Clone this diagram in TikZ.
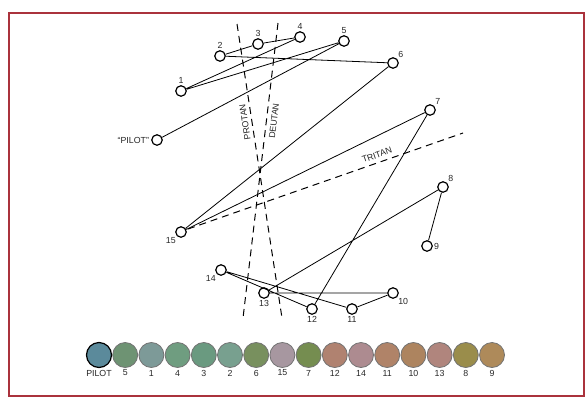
\documentclass[tikz,border=0pt]{standalone}
\usepackage{fontspec}
\setmainfont{Liberation Sans}
\begin{document}
\begin{tikzpicture}[x=1pt,y=-1pt,
  capdot/.style={circle,draw,fill=white,line width=1.2pt,minimum size=10.5pt,inner sep=0pt},
  lbl/.style={font=\fontsize{8.8}{10}\selectfont,text=black!85,inner sep=1pt},
  conn/.style={line width=0.8pt},
  axisline/.style={line width=1pt,dash pattern=on 7pt off 5pt},
  swatch/.style={circle,draw=black!55,line width=0.8pt,minimum size=25pt,inner sep=0pt},
  framebox/.style={draw={rgb,255:red,170;green,50;blue,60},line width=1.5pt}]
\useasboundingbox (0,0) rectangle (588,402);
\draw[framebox] (9,13) rectangle (584,396);
% dashed confusion axes
\coordinate (pt) at (237,24); \coordinate (pb) at (282,318);
\coordinate (dt) at (278,23); \coordinate (db) at (243,318);
\coordinate (tl) at (188,229); \coordinate (tr) at (463,133);
\draw[axisline] (pt) -- (pb);
\draw[axisline] (dt) -- (db);
\draw[axisline] (tl) -- (tr);
\node[lbl,rotate=98.7,inner sep=0pt] (protan) at (245,122) {PROTAN};
\node[lbl,rotate=83.2,inner sep=0pt] (deutan) at (274,121) {DEUTAN};
\node[lbl,rotate=19.2] (tritan) at (377,155) {TRITAN};
% caps
\node[capdot,label={[lbl,label distance=1pt]left:“PILOT”}] (P) at (157,140) {};
\node[capdot,label={[lbl,label distance=0pt]above:1}] (c1) at (181,91) {};
\node[capdot,label={[lbl,label distance=0pt]above:2}] (c2) at (220,56) {};
\node[capdot,label={[lbl,label distance=0pt]above:3}] (c3) at (258,44) {};
\node[capdot,label={[lbl,label distance=0pt]above:4}] (c4) at (300,37) {};
\node[capdot,label={[lbl,label distance=0pt]above:5}] (c5) at (344,41) {};
\node[capdot,label={[lbl,label distance=0pt]above right:6}] (c6) at (393,63) {};
\node[capdot,label={[lbl,label distance=0pt]above right:7}] (c7) at (430,110) {};
\node[capdot,label={[lbl,label distance=0pt]above right:8}] (c8) at (443,187) {};
\node[capdot,label={[lbl,label distance=0pt]right:9}] (c9) at (427,246) {};
\node[capdot,label={[lbl,label distance=0pt]below right:10}] (c10) at (393,293) {};
\node[capdot,label={[lbl,label distance=0pt]below:11}] (c11) at (352,309) {};
\node[capdot,label={[lbl,label distance=0pt]below:12}] (c12) at (312,309) {};
\node[capdot,label={[lbl,label distance=0pt]below:13}] (c13) at (264,293) {};
\node[capdot,label={[lbl,label distance=0pt]below left:14}] (c14) at (221,270) {};
\node[capdot,label={[lbl,label distance=0pt]below left:15}] (c15) at (181,232) {};
% connectors
\draw[conn] (P) -- (c5) -- (c1) -- (c4) -- (c3) -- (c2) -- (c6) -- (c15) -- (c7) -- (c12) -- (c14) -- (c11) -- (c10) -- (c13) -- (c8) -- (c9);
% swatches
\definecolor{sP}{HTML}{5B8A9B}
\definecolor{s5}{HTML}{6E9373}
\definecolor{s1}{HTML}{7D9A98}
\definecolor{s4}{HTML}{6F9D80}
\definecolor{s3}{HTML}{6A9A80}
\definecolor{s2}{HTML}{78A08F}
\definecolor{s6}{HTML}{78905E}
\definecolor{s15}{HTML}{A797A0}
\definecolor{s7}{HTML}{758D50}
\definecolor{s12}{HTML}{B08270}
\definecolor{s14}{HTML}{AD8B90}
\definecolor{s11}{HTML}{B08368}
\definecolor{s10}{HTML}{AD845F}
\definecolor{s13}{HTML}{B0857D}
\definecolor{s8}{HTML}{9A8D4B}
\definecolor{s9}{HTML}{AE8A5A}
\foreach \c [count=\i from 0] in {5,1,4,3,2,6,15,7,12,14,11,10,13,8,9}{
  \node[swatch,fill=s\c] (w\c) at ({125.2+26.2*\i},355) {};
  \node[lbl] (wl\c) at ({125.2+26.2*\i},373) {\c};
}
\node[swatch,fill=sP,draw=black,line width=1.2pt] (wP) at (99,355) {};
\node[lbl] (wlP) at (99,373) {PILOT};
\end{tikzpicture}
\end{document}
